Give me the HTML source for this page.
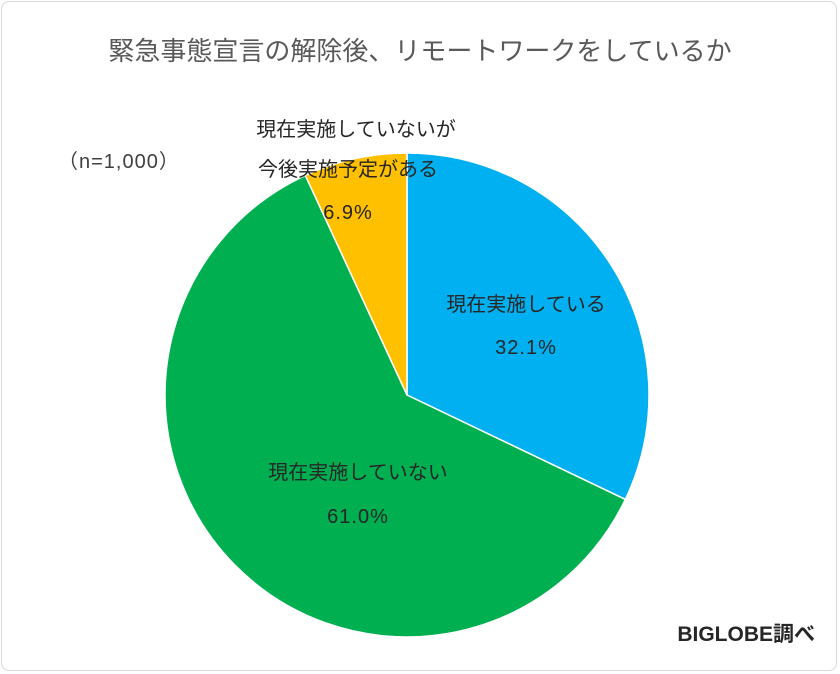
<!DOCTYPE html>
<html><head><meta charset="utf-8"><style>
html,body{margin:0;padding:0;background:#fff;}
#wrap{position:relative;width:840px;height:674px;overflow:hidden;font-family:"Liberation Sans","Noto Sans CJK JP",sans-serif;}
#frame{position:absolute;left:1px;top:1px;width:836px;height:670px;border:1px solid #d9d9d9;border-radius:8px;box-sizing:border-box;}
</style></head><body>
<div id="wrap">
<div id="frame"></div>
<svg width="840" height="674" style="position:absolute;left:0;top:0">
<text x="420" y="60" text-anchor="middle" font-size="26" fill="#595959">緊急事態宣言の解除後、リモートワークをしているか</text>
<text x="58" y="168" font-size="20" letter-spacing="1" fill="#404040">（n=1,000）</text>
<g id="slices"></g>
<g font-size="20" fill="#262626" text-anchor="middle">
<text x="526" y="311">現在実施している</text>
<text x="526" y="354" letter-spacing="1">32.1%</text>
<text x="358" y="479">現在実施していない</text>
<text x="358" y="523" letter-spacing="1">61.0%</text>
<text x="356" y="136">現在実施していないが</text>
<text x="348" y="176">今後実施予定がある</text>
<text x="348" y="219" letter-spacing="1">6.9%</text>
</g>
<text x="815" y="641" text-anchor="end" font-size="21" font-weight="bold" fill="#262626">BIGLOBE調べ</text>
</svg>
</div>
<script>
const categories=["現在実施している","現在実施していない","現在実施していないが今後実施予定がある"];
const values=[32.1,61.0,6.9];
const colors=["#00b0f0","#00b050","#ffc000"];
const cx=407,cy=395,r=242;
const g=document.getElementById('slices');
const total=values.reduce((a,b)=>a+b,0);
let a0=0;
function pt(a){return [cx+r*Math.sin(a),cy-r*Math.cos(a)];}
values.forEach((v,i)=>{
 const a1=a0+v/total*2*Math.PI;
 const p0=pt(a0),p1=pt(a1);
 const large=(a1-a0)>Math.PI?1:0;
 const p=document.createElementNS('http://www.w3.org/2000/svg','path');
 p.setAttribute('d',`M${cx},${cy} L${p0[0]},${p0[1]} A${r},${r} 0 ${large} 1 ${p1[0]},${p1[1]} Z`);
 p.setAttribute('fill',colors[i]);
 p.setAttribute('stroke','#fff');
 p.setAttribute('stroke-width','1.5');
 
 
 g.appendChild(p);
 a0=a1;
});
</script>
</body></html>
